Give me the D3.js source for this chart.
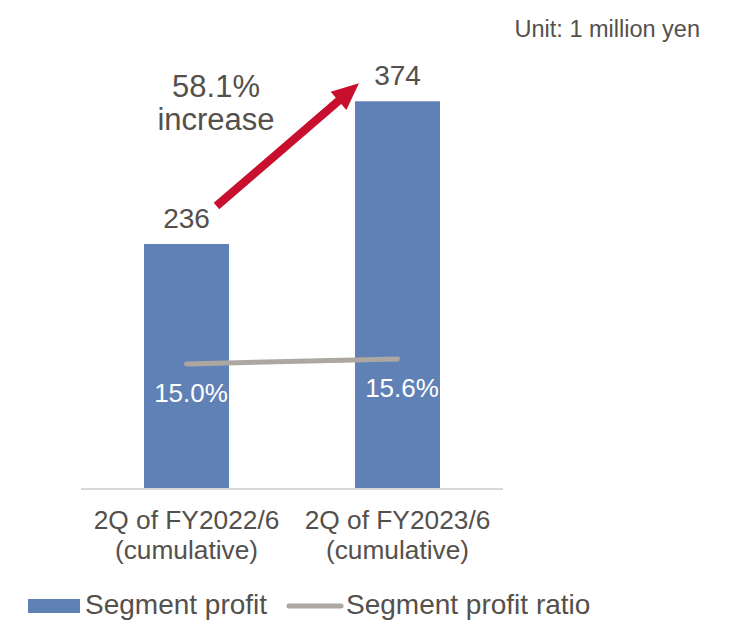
<!DOCTYPE html>
<html><head><meta charset="utf-8">
<script src="https://cdn.jsdelivr.net/npm/d3@7"></script>
<style>html,body{margin:0;padding:0;background:#fff;} svg{display:block;}</style>
</head><body>
<script>
const categories = ["2Q of FY2022/6|(cumulative)", "2Q of FY2023/6|(cumulative)"];
const profit = [236, 374];
const ratio = [15.0, 15.6];
const ratioLabels = ["15.0%", "15.6%"];
const increaseLabel = ["58.1%", "increase"];
const unitLabel = "Unit: 1 million yen";
const legendLabels = ["Segment profit", "Segment profit ratio"];

const W = 729, H = 622;
const font = "'Liberation Sans', Arial, sans-serif";
const textColor = "#54504c";
const barColor = "#6081b6";
const lineColor = "#aca7a1";
const arrowColor = "#c8102e";

const svg = d3.select("body").append("svg").attr("width", W).attr("height", H);

const x = d3.scaleBand().domain(categories).range([81, 503]).paddingInner(0.597).paddingOuter(0.2985);
const y = d3.scaleLinear().domain([0, 400]).range([488, 74.4]);
const yR = d3.scaleLinear().domain([0, 50]).range([488, 74.4]);
const cx = c => x(c) + x.bandwidth() / 2;

// bars
svg.selectAll("rect.bar").data(profit).join("rect").attr("class", "bar")
  .attr("x", (d, i) => x(categories[i])).attr("width", x.bandwidth())
  .attr("y", d => y(d)).attr("height", d => y(0) - y(d))
  .attr("fill", barColor);

// axis baseline
const xAxis = d3.axisBottom(x).tickSize(0).tickFormat("");
const gx = svg.append("g").attr("transform", `translate(0,${y(0) + 1})`).call(xAxis);
gx.select(".domain").attr("stroke", "#d9d9d9").attr("stroke-width", 2).attr("d", "M81,0H503");

// tick labels (two lines)
categories.forEach(c => {
  const parts = c.split("|");
  const t = svg.append("text").attr("x", cx(c)).attr("text-anchor", "middle")
    .attr("font-family", font).attr("font-size", 26.3).attr("fill", textColor);
  t.append("tspan").attr("x", cx(c)).attr("y", 529).text(parts[0]);
  t.append("tspan").attr("x", cx(c)).attr("y", 559).text(parts[1]);
});

// value labels
svg.selectAll("text.val").data(profit).join("text").attr("class", "val")
  .attr("x", (d, i) => cx(categories[i])).attr("y", d => y(d) - 16)
  .attr("text-anchor", "middle").attr("font-family", font).attr("font-size", 28)
  .attr("fill", textColor).text(d => d);

// ratio line
const line = d3.line().x((d, i) => cx(categories[i])).y(d => yR(d));
svg.append("path").datum(ratio).attr("d", line).attr("fill", "none")
  .attr("stroke", lineColor).attr("stroke-width", 5).attr("stroke-linecap", "round");

// ratio labels
svg.selectAll("text.rl").data(ratio).join("text").attr("class", "rl")
  .attr("x", (d, i) => cx(categories[i]) + 4.5).attr("y", d => yR(d) + 38.5)
  .attr("text-anchor", "middle").attr("font-family", font).attr("font-size", 26)
  .attr("fill", "#ffffff").text((d, i) => ratioLabels[i]);

// arrow annotation
const x0 = cx(categories[0]) + 30, y0 = y(profit[0]) - 38;
const x1 = x(categories[1]) + 4, y1 = y(profit[1]) - 18;
const dx = x1 - x0, dy = y1 - y0, L = Math.hypot(dx, dy);
const ux = dx / L, uy = dy / L, nx = -uy, ny = ux;
const headLen = 27, headHalf = 12, shaftHalf = 4.2;
const bx = x1 - ux * headLen, by = y1 - uy * headLen;
const pts = [
  [x0 + nx * shaftHalf, y0 + ny * shaftHalf],
  [bx + nx * shaftHalf, by + ny * shaftHalf],
  [bx + nx * headHalf, by + ny * headHalf],
  [x1, y1],
  [bx - nx * headHalf, by - ny * headHalf],
  [bx - nx * shaftHalf, by - ny * shaftHalf],
  [x0 - nx * shaftHalf, y0 - ny * shaftHalf]
];
svg.append("path").attr("d", d3.line()(pts) + "Z").attr("fill", arrowColor);

// increase label
const it = svg.append("text").attr("text-anchor", "middle").attr("font-family", font)
  .attr("font-size", 31).attr("fill", textColor);
it.append("tspan").attr("x", 216).attr("y", 97).text(increaseLabel[0]);
it.append("tspan").attr("x", 216).attr("y", 130).text(increaseLabel[1]);

// unit
svg.append("text").attr("x", 700).attr("y", 37).attr("text-anchor", "end")
  .attr("font-family", font).attr("font-size", 23.5).attr("fill", textColor).text(unitLabel);

// legend
svg.append("rect").attr("x", 28).attr("y", 599).attr("width", 52).attr("height", 14).attr("fill", barColor);
svg.append("text").attr("x", 85).attr("y", 614).attr("font-family", font).attr("font-size", 28)
  .attr("fill", textColor).text(legendLabels[0]);
svg.append("line").attr("x1", 289).attr("x2", 341).attr("y1", 606).attr("y2", 606)
  .attr("stroke", lineColor).attr("stroke-width", 5).attr("stroke-linecap", "round");
svg.append("text").attr("x", 346).attr("y", 614).attr("font-family", font).attr("font-size", 28)
  .attr("fill", textColor).text(legendLabels[1]);
</script>
</body></html>
